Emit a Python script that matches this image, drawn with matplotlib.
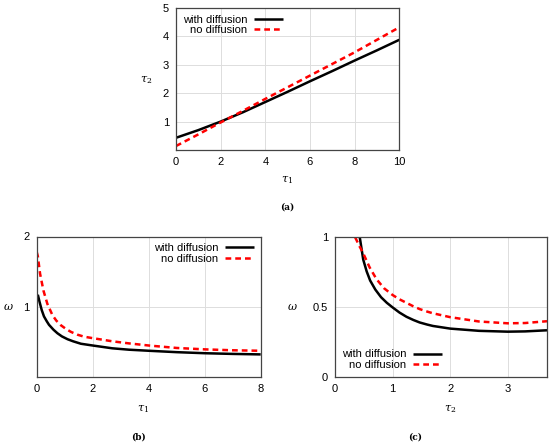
import matplotlib
matplotlib.use("Agg")
import matplotlib.pyplot as plt
import numpy as np

plt.rcParams['font.family'] = ['Liberation Sans', 'DejaVu Sans']
plt.rcParams['mathtext.fontset'] = 'dejavuserif'

W, H = 550, 445

# (a) tau2 vs tau1
a_tau1 = [0, 1, 2, 3, 4, 5, 6, 7, 8, 9, 10]
a_with = [0.43, 0.70, 1.00, 1.33, 1.69, 2.05, 2.42, 2.78, 3.15, 3.51, 3.88]
a_without = [0.14, 0.55, 0.97, 1.38, 1.80, 2.21, 2.62, 3.03, 3.44, 3.88, 4.32]

# (b) omega vs tau1
b_tau1_with = [0.04, 0.1, 0.18, 0.26, 0.36, 0.44, 0.6, 0.74, 0.9, 1.1, 1.3, 1.58,
               2, 2.7, 3.3, 4, 5, 6, 7, 8]
b_with = [1.17, 1.07, 0.95, 0.86, 0.79, 0.74, 0.67, 0.62, 0.575, 0.535, 0.505,
          0.47, 0.445, 0.405, 0.385, 0.37, 0.35, 0.335, 0.325, 0.318]
b_tau1_without = [0, 0.04, 0.12, 0.24, 0.38, 0.56, 0.7, 0.86, 1.05, 1.22, 1.45,
                  1.7, 2, 2.7, 3.3, 4, 5, 6, 7, 8]
b_without = [1.78, 1.72, 1.47, 1.23, 1.04, 0.88, 0.80, 0.735, 0.68, 0.64, 0.60,
             0.57, 0.55, 0.505, 0.475, 0.445, 0.41, 0.39, 0.377, 0.37]

# (c) omega vs tau2
c_tau2_with = [0.43, 0.46, 0.49, 0.55, 0.61, 0.7, 0.8, 0.9, 1.0, 1.12, 1.24,
               1.36, 1.47, 1.6, 1.7, 2.0, 2.5, 3.0, 3.3, 3.68]
c_with = [1.0, 0.92, 0.84, 0.755, 0.69, 0.625, 0.57, 0.53, 0.497, 0.46, 0.43,
          0.407, 0.389, 0.374, 0.364, 0.345, 0.329, 0.323, 0.325, 0.333]
c_tau2_without = [0.35, 0.42, 0.49, 0.6, 0.72, 0.85, 1.0, 1.12, 1.24, 1.36, 1.47,
                  1.6, 1.7, 2.0, 2.5, 3.0, 3.3, 3.68]
c_without = [1.0, 0.94, 0.885, 0.785, 0.70, 0.635, 0.586, 0.555, 0.53, 0.505,
             0.485, 0.467, 0.455, 0.427, 0.396, 0.383, 0.385, 0.398]


def px_axes(fig, left, top, right, bottom):
    return fig.add_axes([left / W, 1 - bottom / H, (right - left) / W, (bottom - top) / H])


def style(ax):
    for s in ax.spines.values():
        s.set_color('#444444')
        s.set_linewidth(0.9)
    ax.grid(True, color='#dddddd', linewidth=0.7)
    ax.set_axisbelow(True)
    ax.tick_params(length=0, labelsize=8, pad=5, colors='black')


def draw(ax, x1, y1, x2, y2, loc):
    ax.plot(x1, y1, color='black', lw=1.8, label='with diffusion', solid_capstyle='butt')
    ax.plot(x2, y2, color='red', lw=1.8, ls=(0, (2.3, 1.6)), label='no diffusion')
    ax.legend(loc=loc, frameon=False, markerfirst=False, fontsize=8,
              handlelength=2.6, handletextpad=0.6, labelspacing=0.05,
              borderaxespad=0.2)


def ftext(x, y, s, **kw):
    fig.text(x / W, 1 - y / H, s, ha='center', va='center', **kw)


fig = plt.figure(figsize=(W / 100, H / 100), dpi=100)

ax1 = px_axes(fig, 176, 8, 399.3, 150)
draw(ax1, a_tau1, a_with, a_tau1, a_without, 'upper left')
ax1.set_xlim(0, 10)
ax1.set_ylim(0, 5)
ax1.set_xticks([0, 2, 4, 6, 8, 10])
ax1.set_yticks([1, 2, 3, 4, 5])
style(ax1)

ax2 = px_axes(fig, 36.7, 236.5, 260.7, 376.7)
draw(ax2, b_tau1_with, b_with, b_tau1_without, b_without, 'upper right')
ax2.set_xlim(0, 8)
ax2.set_ylim(0, 2)
ax2.set_xticks([0, 2, 4, 6, 8])
ax2.set_yticks([1, 2])
style(ax2)

ax3 = px_axes(fig, 335, 237.3, 547, 376.7)
draw(ax3, c_tau2_with, c_with, c_tau2_without, c_without, 'lower left')
ax3.set_xlim(0, 3.68)
ax3.set_ylim(0, 1)
ax3.set_xticks([0, 1, 2, 3])
ax3.set_yticks([0, 0.5, 1])
ax3.set_yticklabels(['0', '0.5', '1'])
style(ax3)

lab = dict(fontsize=8)
ftext(146, 80, r'$\tau_2$', **lab)
ftext(287, 180, r'$\tau_1$', **lab)
ftext(8, 307, r'$\omega$', **lab)
ftext(143, 409, r'$\tau_1$', **lab)
ftext(292, 307, r'$\omega$', **lab)
ftext(450, 409, r'$\tau_2$', **lab)

cap = dict(fontsize=6.5, fontweight='bold', family='DejaVu Serif')
ftext(287, 207, '(a)', **cap)
ftext(138, 437, '(b)', **cap)
ftext(415, 437, '(c)', **cap)

fig.savefig('out.png', dpi=100)
